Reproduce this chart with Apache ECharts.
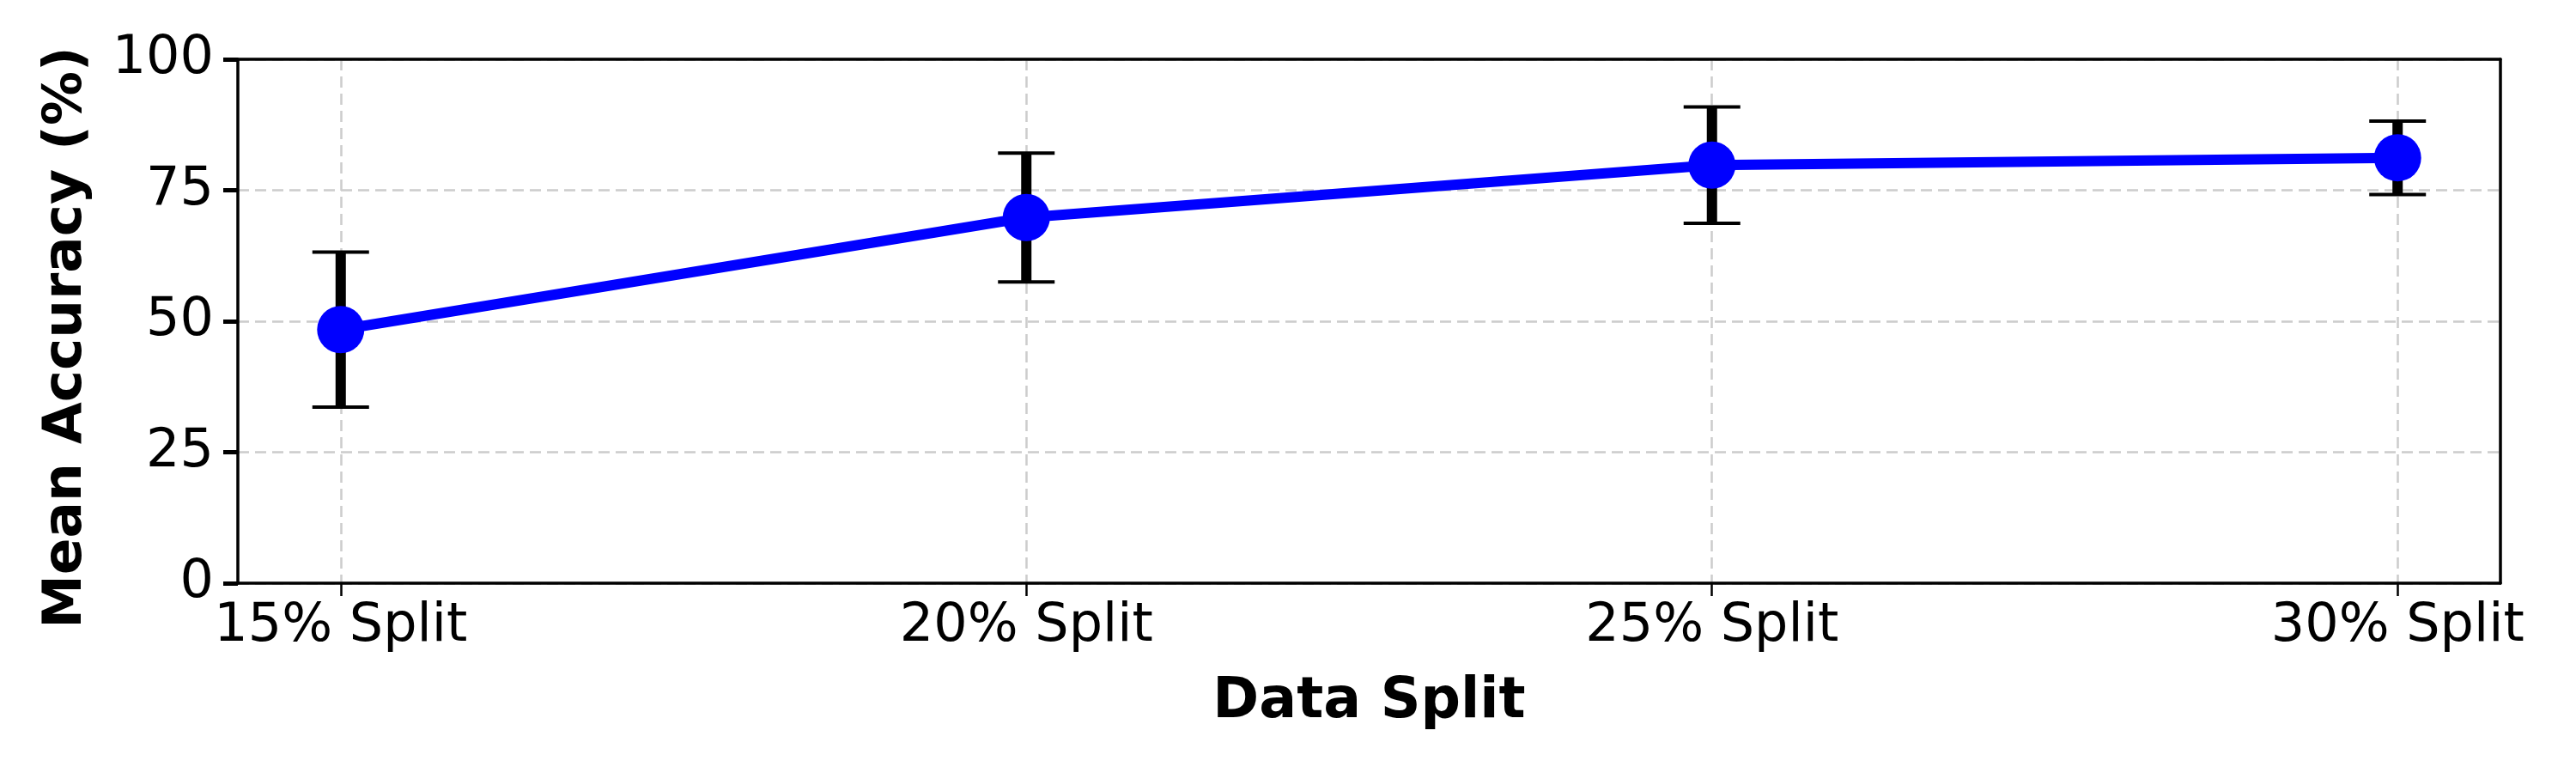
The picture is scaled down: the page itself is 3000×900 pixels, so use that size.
<!DOCTYPE html>
<html>
<head>
<meta charset="utf-8">
<script src="https://cdn.jsdelivr.net/npm/echarts@6/dist/echarts.min.js"></script>
<style>
  html, body { margin: 0; padding: 0; background: #fff; }
  #main { width: 3000px; height: 900px; }
</style>
</head>
<body>
<div id="main"></div>
<script>
// data
const categories = ['15% Split', '20% Split', '25% Split', '30% Split'];
const meanAcc = [48.4, 69.8, 79.8, 81.2];
const errAcc = [14.8, 12.3, 11.1, 7.0];
const yTicks = [0, 25, 50, 75, 100];

window.onload = function () {
  const chartDom = document.getElementById('main');
  const myChart = echarts.init(chartDom);
  const font = 'DejaVu Sans';
  const frame = { show: true, onZero: false, lineStyle: { color: '#000', width: 3.5 } };
  const gridLine = { show: true, lineStyle: { color: '#cccccc', width: 2.5, type: [13, 7] } };

  const lineData = meanAcc.map((v, i) => [i, v]);
  const errData = meanAcc.map((v, i) => [i, v - errAcc[i], v + errAcc[i]]);

  const option = {
    animation: false,
    backgroundColor: '#fff',
    grid: { left: 277, right: 88, top: 69, bottom: 221 },
    xAxis: [
      {
        type: 'value',
        min: -0.15,
        max: 3.15,
        name: 'Data Split',
        nameLocation: 'middle',
        nameGap: 107,
        nameTextStyle: { fontFamily: font, fontWeight: 'bold', fontSize: 65, color: '#000' },
        axisLine: frame,
        axisTick: { show: true, length: 15, customValues: [0, 1, 2, 3], lineStyle: { color: '#000', width: 2.5 } },
        axisLabel: {
          customValues: [0, 1, 2, 3],
          margin: 20,
          fontFamily: font, fontSize: 62, color: '#000',
          formatter: (v) => categories[Math.round(v)] || ''
        },
        splitLine: gridLine
      },
      {
        type: 'value', position: 'top', min: -0.15, max: 3.15,
        axisLine: frame, axisTick: { show: false }, axisLabel: { show: false }, splitLine: { show: false },
        z: 5
      }
    ],
    yAxis: [
      {
        type: 'value',
        min: 0,
        max: 100,
        interval: 25,
        name: 'Mean Accuracy (%)',
        nameLocation: 'middle',
        nameGap: 168,
        nameTextStyle: { fontFamily: font, fontWeight: 'bold', fontSize: 63, color: '#000', padding: [0, 38, 0, 0] },
        axisLine: frame,
        axisTick: { show: true, length: 17, lineStyle: { color: '#000', width: 5 } },
        axisLabel: {
          margin: 28, fontFamily: font, fontSize: 62, color: '#000',
          formatter: (v) => (yTicks.indexOf(v) >= 0 ? String(v) : '')
        },
        splitLine: gridLine
      },
      {
        type: 'value', position: 'right', min: 0, max: 100,
        axisLine: frame, axisTick: { show: false }, axisLabel: { show: false }, splitLine: { show: false },
        z: 5
      }
    ],
    series: [
      {
        type: 'custom',
        z: 2,
        data: errData,
        renderItem: function (params, api) {
          const x = api.value(0);
          const lo = api.coord([x, api.value(1)]);
          const hi = api.coord([x, api.value(2)]);
          const cap = 33;
          return {
            type: 'group',
            children: [
              { type: 'line', shape: { x1: lo[0], y1: lo[1], x2: hi[0], y2: hi[1] },
                style: { stroke: '#000', lineWidth: 12 } },
              { type: 'line', shape: { x1: hi[0] - cap, y1: hi[1], x2: hi[0] + cap, y2: hi[1] },
                style: { stroke: '#000', lineWidth: 4 } },
              { type: 'line', shape: { x1: lo[0] - cap, y1: lo[1], x2: lo[0] + cap, y2: lo[1] },
                style: { stroke: '#000', lineWidth: 4 } }
            ]
          };
        }
      },
      {
        type: 'line',
        z: 3,
        data: lineData,
        symbol: 'circle',
        symbolSize: 55,
        lineStyle: { color: '#0000ff', width: 12 },
        itemStyle: { color: '#0000ff' }
      }
    ]
  };

  option && myChart.setOption(option);
};
</script>
</body>
</html>
